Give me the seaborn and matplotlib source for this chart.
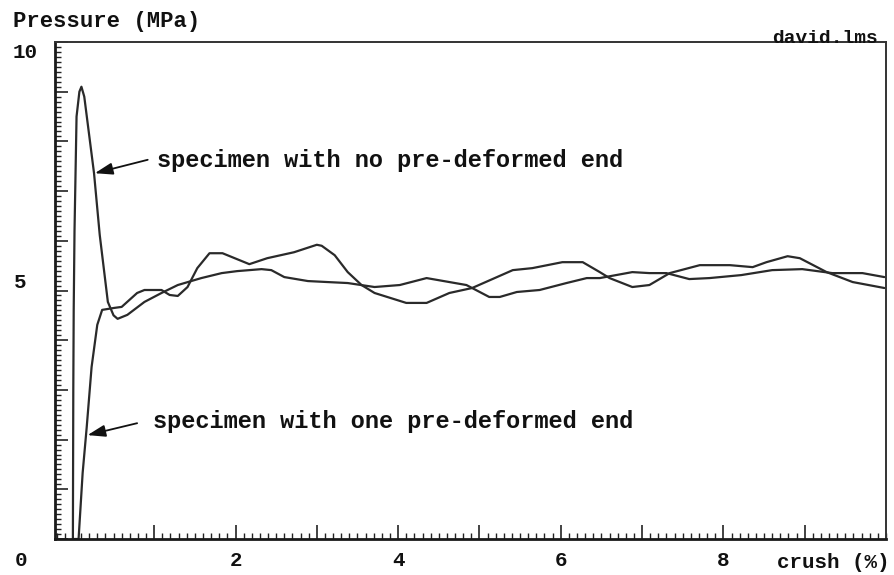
import matplotlib
matplotlib.use("Agg")
import matplotlib.pyplot as plt
import seaborn as sns
import pandas as pd
from matplotlib.ticker import MultipleLocator

# ---- data ----
no_pre_crush = [0.00, 0.005, 0.01, 0.02, 0.045, 0.08, 0.105, 0.14, 0.26, 0.33, 0.43, 0.50, 0.55,
                0.67, 0.88, 1.09, 1.29, 1.58, 1.83, 2.02, 2.32, 2.44, 2.60, 2.89, 3.13,
                3.38, 3.71, 4.02, 4.35, 4.63, 4.84, 5.12, 5.25, 5.46, 5.74, 6.07, 6.32,
                6.48, 6.88, 7.09, 7.30, 7.58, 7.83, 8.22, 8.60, 8.97, 9.34, 9.71, 9.98]
no_pre_pressure = [0.0, 3.0, 4.6, 6.2, 8.5, 9.0, 9.1, 8.9, 7.36, 6.12, 4.77, 4.50, 4.43,
                   4.51, 4.77, 4.95, 5.11, 5.25, 5.35, 5.39, 5.43, 5.41, 5.27, 5.19, 5.17,
                   5.15, 5.07, 5.11, 5.25, 5.17, 5.11, 4.87, 4.87, 4.97, 5.01, 5.15, 5.25,
                   5.25, 5.37, 5.35, 5.35, 5.23, 5.25, 5.31, 5.41, 5.43, 5.35, 5.35, 5.27]

one_pre_crush = [0.00, 0.07, 0.12, 0.17, 0.23, 0.30, 0.36, 0.51, 0.60, 0.79, 0.88, 1.09,
                 1.19, 1.29, 1.41, 1.53, 1.68, 1.84, 1.99, 2.17, 2.39, 2.72, 3.00, 3.06,
                 3.22, 3.38, 3.55, 3.71, 4.10, 4.35, 4.63, 4.91, 5.41, 5.65, 6.02, 6.27,
                 6.48, 6.60, 6.88, 7.09, 7.34, 7.71, 8.08, 8.36, 8.53, 8.79, 8.94, 9.27,
                 9.59, 9.98]
one_pre_pressure = [0.0, 0.0, 1.33, 2.25, 3.46, 4.31, 4.61, 4.65, 4.67, 4.95, 5.01, 5.01,
                    4.91, 4.89, 5.07, 5.45, 5.75, 5.75, 5.65, 5.53, 5.65, 5.77, 5.92, 5.90,
                    5.71, 5.37, 5.11, 4.95, 4.75, 4.75, 4.95, 5.05, 5.41, 5.45, 5.57, 5.57,
                    5.37, 5.25, 5.07, 5.11, 5.35, 5.51, 5.51, 5.47, 5.57, 5.69, 5.65, 5.37,
                    5.17, 5.05]

x_tick_values = [0, 1, 2, 3, 4, 5, 6, 7, 8, 9]
x_tick_labels = ["", "", "2", "", "4", "", "6", "", "8", ""]
y_labels = ["10", "5", "0"]

label_no_pre = "specimen with no pre-deformed end"
label_one_pre = "specimen with one pre-deformed end"
y_title = "Pressure (MPa)"
x_title = "crush (%)"
file_tag = "david.lms"

# ---- figure ----
sns.set_style("white")
plt.rcParams["font.family"] = ["Liberation Mono", "DejaVu Sans Mono"]
plt.rcParams["font.weight"] = "bold"

W, H = 895, 575
fig = plt.figure(figsize=(W / 100, H / 100), dpi=100)
ax = fig.add_axes([55 / W, 1 - 539 / H, (886 - 55) / W, (539 - 42) / H])

df1 = pd.DataFrame({"crush": no_pre_crush, "pressure": no_pre_pressure})
df2 = pd.DataFrame({"crush": one_pre_crush, "pressure": one_pre_pressure})
line_col = "#2a2a2a"
for d in (df1, df2):
    sns.lineplot(data=d, x="crush", y="pressure", ax=ax, color=line_col, lw=1.6,
                 sort=False, estimator=None, solid_joinstyle="round",
                 solid_capstyle="round")

ax.set_xlim(-0.22, 10.0)
ax.set_ylim(0, 10)
ax.set_xlabel("")
ax.set_ylabel("")

ax.set_xticks(x_tick_values)
ax.set_xticklabels(x_tick_labels)
ax.xaxis.set_minor_locator(MultipleLocator(0.1))
ax.set_yticks(range(0, 11))
ax.set_yticklabels([])
ax.yaxis.set_minor_locator(MultipleLocator(0.1))

ax.tick_params(axis="x", which="major", direction="in", length=10, width=1.2,
               color="#222222", labelsize=15, pad=9, labelcolor="#111111",
               bottom=True)
ax.tick_params(axis="x", which="minor", direction="in", length=4, width=1.0,
               color="#222222", bottom=True)
ax.tick_params(axis="y", which="major", direction="in", length=9, width=1.2,
               color="#222222", left=True)
ax.tick_params(axis="y", which="minor", direction="in", length=4, width=1.0,
               color="#222222", left=True)
ax.tick_params(top=False, right=False, which="both")

for side in ["left", "bottom"]:
    ax.spines[side].set_linewidth(2.0)
    ax.spines[side].set_color("#1a1a1a")
for side in ["top", "right"]:
    ax.spines[side].set_linewidth(1.4)
    ax.spines[side].set_color("#333333")


def fx(px):
    return px / W


def fy(py):
    return 1 - py / H


txt_kw = dict(color="#111111", fontweight="bold")
fig.text(fx(13), fy(21), y_title, ha="left", va="center", fontsize=16, **txt_kw)
fig.text(fx(25), fy(52), y_labels[0], ha="center", va="center", fontsize=15, **txt_kw)
fig.text(fx(20), fy(282), y_labels[1], ha="center", va="center", fontsize=15, **txt_kw)
fig.text(fx(21), fy(560), y_labels[2], ha="center", va="center", fontsize=15, **txt_kw)
fig.text(fx(890), fy(562), x_title, ha="right", va="center", fontsize=15, **txt_kw)
fig.text(fx(878), fy(43), file_tag, ha="right", va="baseline", fontsize=14, **txt_kw)

# annotations
ax.text(1.04, 7.48, label_no_pre, ha="left", va="baseline", fontsize=17, **txt_kw)
ax.text(0.98, 2.23, label_one_pre, ha="left", va="baseline", fontsize=17, **txt_kw)
arrow_kw = dict(arrowstyle="-|>,head_length=0.9,head_width=0.3", color="#111111",
                lw=1.3, mutation_scale=12, shrinkA=0, shrinkB=0)
ax.annotate("", xy=(0.27, 7.36), xytext=(0.92, 7.63), arrowprops=arrow_kw)
ax.annotate("", xy=(0.18, 2.09), xytext=(0.79, 2.33), arrowprops=arrow_kw)

fig.savefig("out.png", dpi=100)
